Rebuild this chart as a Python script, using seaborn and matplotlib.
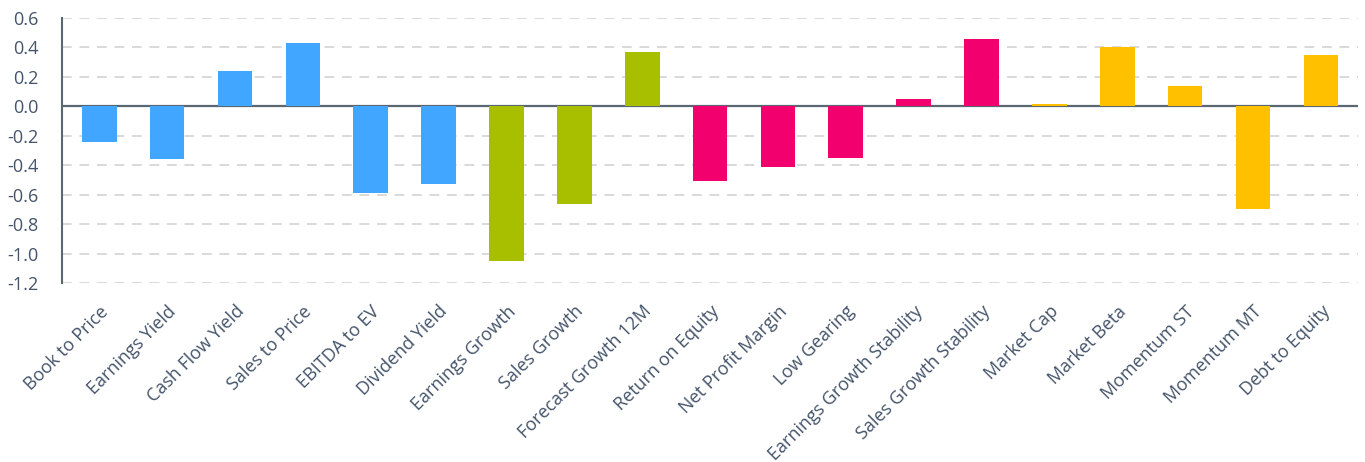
import pandas as pd
import seaborn as sns
import matplotlib.pyplot as plt

# factor names, values and the group each one belongs to
factors = ["Book to Price", "Earnings Yield", "Cash Flow Yield", "Sales to Price",
           "EBITDA to EV", "Dividend Yield", "Earnings Growth", "Sales Growth",
           "Forecast Growth 12M", "Return on Equity", "Net Profit Margin",
           "Low Gearing", "Earnings Growth Stability", "Sales Growth Stability",
           "Market Cap", "Market Beta", "Momentum ST", "Momentum MT", "Debt to Equity"]
values = [-0.24, -0.36, 0.24, 0.43, -0.59, -0.53, -1.05, -0.66, 0.37, -0.51,
          -0.41, -0.35, 0.05, 0.46, 0.015, 0.40, 0.14, -0.70, 0.35]
groups = ["Value"] * 6 + ["Growth"] * 3 + ["Quality"] * 5 + ["Other"] * 5
colors = {"Value": "#41A6FF", "Growth": "#A8BF00", "Quality": "#F2006E", "Other": "#FFC000"}

yticks = [0.6, 0.4, 0.2, 0.0, -0.2, -0.4, -0.6, -0.8, -1.0, -1.2]

df = pd.DataFrame({"factor": factors, "value": values, "group": groups})

sns.set_style("white")
plt.rcParams['font.family'] = ['Open Sans', 'DejaVu Sans']
text_col = "#44546A"

fig = plt.figure(figsize=(13.65, 4.62), dpi=100)
ax = fig.add_axes([0.0454, 0.3874, 0.9496, 0.5736])

sns.barplot(data=df, x="factor", y="value", hue="group", palette=colors,
            dodge=False, width=0.51, legend=False, ax=ax, saturation=1,
            linewidth=0, zorder=3)

ax.set_ylim(-1.2, 0.6)
ax.set_xlim(-0.55, len(factors) - 0.45)
ax.set_yticks(yticks)
ax.set_yticklabels([f"{t:.1f}" for t in yticks], color=text_col, fontsize=13)
ax.yaxis.grid(True, color="#D9D9D9", linestyle=(0, (5, 4)), linewidth=1.4)
ax.set_axisbelow(True)
# zero line sits under the bars so tiny values still show
ax.axhline(0, color="#5B6770", linewidth=1.6, zorder=2)

for s in ["top", "right", "bottom"]:
    ax.spines[s].set_visible(False)
ax.spines["left"].set_color("#5B6770")
ax.spines["left"].set_linewidth(1.5)
ax.tick_params(axis="y", length=5, width=1.5, color="#5B6770", pad=12)
ax.tick_params(axis="x", length=0, pad=14)

plt.setp(ax.get_xticklabels(), rotation=45, ha="right", rotation_mode="anchor",
         color=text_col, fontsize=13)
ax.set_xlabel("")
ax.set_ylabel("")

fig.savefig("out.png", dpi=100)
